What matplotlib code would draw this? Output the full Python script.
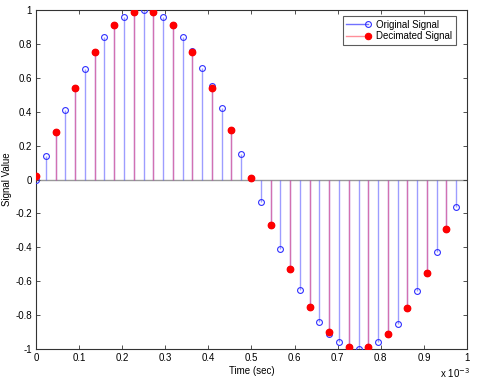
import numpy as np
import matplotlib
matplotlib.use("Agg")
import matplotlib.pyplot as plt
from matplotlib.lines import Line2D
from matplotlib.legend_handler import HandlerBase

plt.rcParams['font.family'] = ['Liberation Sans', 'DejaVu Sans']

# Original signal: samples at 44.1 kHz (time in seconds)
orig_t = np.arange(44) / 44100.0
orig_y = [0.00, 0.14, 0.28, 0.41, 0.54, 0.65, 0.75, 0.84, 0.91, 0.96, 0.99,
          1.00, 0.99, 0.96, 0.91, 0.84, 0.76, 0.66, 0.55, 0.42, 0.29, 0.15,
          0.01, -0.13, -0.27, -0.41, -0.53, -0.65, -0.75, -0.84, -0.91, -0.96,
          -0.99, -1.00, -0.99, -0.96, -0.91, -0.85, -0.76, -0.66, -0.55, -0.43,
          -0.29, -0.16]
# Decimated signal (every second sample)
dec_t = orig_t[::2]
dec_y = [0.02, 0.28, 0.54, 0.75, 0.91, 0.99, 0.99, 0.91, 0.75, 0.54, 0.29,
         0.01, -0.27, -0.53, -0.75, -0.90, -0.99, -0.99, -0.91, -0.76, -0.55, -0.29]

xticks = np.arange(0, 11) * 1e-4
yticks = np.arange(-1, 1.01, 0.2)

fig = plt.figure(figsize=(4.89, 3.85), dpi=100)
ax = fig.add_axes([36/489, 36/385, 431/489, 339/385])

blue_line = (0.3, 0.3, 1.0, 0.55)
red_line = (1.0, 0.3, 0.45, 0.55)
blue_ms, red_ms = 4.2, 4.6

ax.axhline(0, color='#999999', lw=1.0, zorder=1)
ax.vlines(orig_t, 0, orig_y, colors=[blue_line], lw=1.0, zorder=2)
ax.plot(orig_t, orig_y, 'o', mfc='none', mec='#3030ff', ms=blue_ms, mew=0.8, zorder=3)
ax.vlines(dec_t, 0, dec_y, colors=[red_line], lw=1.0, zorder=4)
ax.plot(dec_t, dec_y, 'o', mfc='#ff0000', mec='#ff0000', ms=red_ms, zorder=5)

ax.set_xlim(0, 1e-3)
ax.set_ylim(-1, 1)
ax.set_xticks(xticks)
ax.set_xticklabels(['%g' % round(v * 1e3, 1) for v in xticks])
ax.set_yticks(yticks)
ax.set_yticklabels(['%g' % round(v, 1) if abs(v) > 1e-9 else '0' for v in yticks])
ax.tick_params(direction='in', top=True, right=True, labelsize=7, length=3,
               width=0.6, color='#333333', pad=3)
for s in ax.spines.values():
    s.set_linewidth(0.8)
    s.set_color('#333333')

ax.set_xlabel('Time (sec)', fontsize=7, labelpad=2)
ax.set_ylabel('Signal Value', fontsize=7, labelpad=2)
fig.text(440/489, 1 - 373/385, r'x 10$^{-3}$', fontsize=7, ha='left', va='center')


class StemHandler(HandlerBase):
    def __init__(self, lcolor, mfc, mec, ms):
        super().__init__()
        self.lcolor, self.mfc, self.mec, self.ms = lcolor, mfc, mec, ms

    def create_artists(self, legend, orig_handle, xdescent, ydescent, width,
                       height, fontsize, trans):
        y = height / 2.0 - ydescent
        ln = Line2D([-xdescent, -xdescent + width], [y, y], color=self.lcolor,
                    lw=1.0, transform=trans)
        mk = Line2D([-xdescent + width], [y], ls='none', marker='o',
                    mfc=self.mfc, mec=self.mec, ms=self.ms, mew=0.8,
                    transform=trans)
        return [ln, mk]


h1 = Line2D([], [])
h2 = Line2D([], [])
leg = ax.legend([h1, h2], ['Original Signal', 'Decimated Signal'], loc='upper right',
                bbox_to_anchor=(0.974, 0.982),
                fontsize=7, frameon=True, fancybox=False, edgecolor='#333333',
                borderpad=0.35, handlelength=2.2, handletextpad=0.9, labelspacing=0.2,
                borderaxespad=0.0,
                handler_map={h1: StemHandler((0.3, 0.3, 1.0, 0.8), 'none', '#3030ff', blue_ms),
                             h2: StemHandler((1.0, 0.45, 0.5, 0.8), '#ff0000', '#ff0000', red_ms)})
leg.get_frame().set_linewidth(0.8)

fig.savefig('out.png', dpi=100)
